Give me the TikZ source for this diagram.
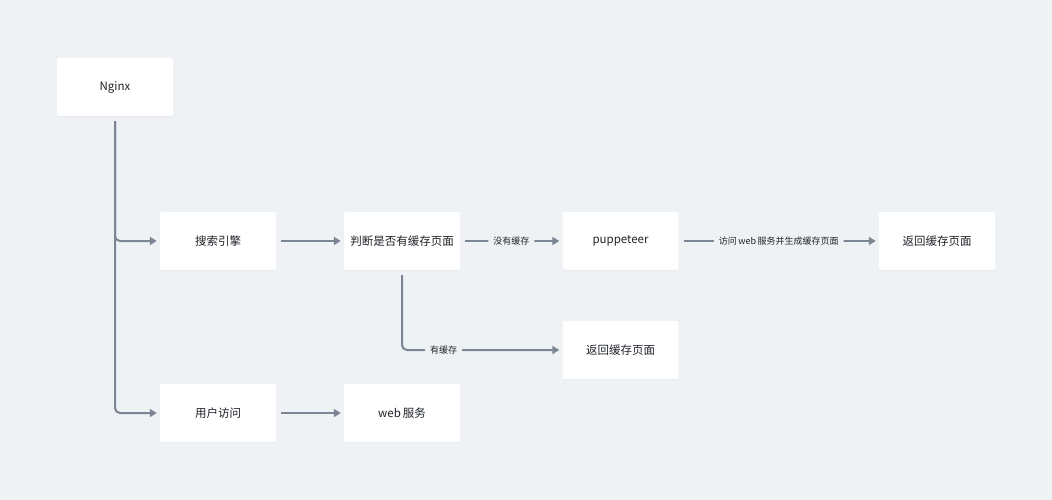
\documentclass[tikz,border=0pt]{standalone}
\usepackage{fontspec}
\setmainfont{Noto Sans CJK SC}
\usetikzlibrary{arrows.meta,shadows}
\definecolor{bgc}{HTML}{EFF2F5}
\definecolor{linec}{HTML}{7B8593}
\definecolor{txtc}{HTML}{1F2329}
\tikzset{
  box/.style={draw=none, fill=white, rounded corners=2pt, minimum width=116pt, minimum height=58pt,
    inner sep=0pt, font=\fontsize{11.5}{13}\selectfont, text=txtc,
    drop shadow={opacity=0.07, shadow xshift=0pt, shadow yshift=-1pt}},
  conn/.style={draw=linec, line width=2pt, rounded corners=5pt,
    -{Triangle[length=7pt,width=8pt]}, shorten >=3pt, shorten <=5pt},
  lbl/.style={fill=bgc, inner xsep=5pt, inner ysep=2pt, font=\fontsize{9}{10}\selectfont, text=txtc}
}
\begin{document}
\begin{tikzpicture}[x=1pt,y=-1pt]
\fill[bgc] (0,0) rectangle (1052,500);
\useasboundingbox (0,0) rectangle (1052,500);
\node[box] (nginx) at (115,87) {Nginx};
\node[box] (search) at (218,241) {搜索引擎};
\node[box] (judge) at (402,241) {判断是否有缓存页面};
\node[box] (pup) at (620.5,241) {puppeteer};
\node[box] (ret1) at (937,241) {返回缓存页面};
\node[box] (ret2) at (620.5,350) {返回缓存页面};
\node[box] (user) at (218,413) {用户访问};
\node[box] (web) at (402,413) {web\,服务};

\draw[conn] (nginx.south) |- (search.west);
\draw[conn] (nginx.south) |- (user.west);
\draw[conn] (search.east) -- (judge.west);
\draw[conn] (judge.east) -- node[lbl, pos=0.5] {没有缓存} (pup.west);
\draw[conn] (pup.east) -- node[lbl, pos=0.5] {访问\,web\,服务并生成缓存页面} (ret1.west);
\draw[conn] (judge.south) |- node[lbl, pos=0.63] {有缓存} (ret2.west);
\draw[conn] (user.east) -- (web.west);
\end{tikzpicture}
\end{document}
